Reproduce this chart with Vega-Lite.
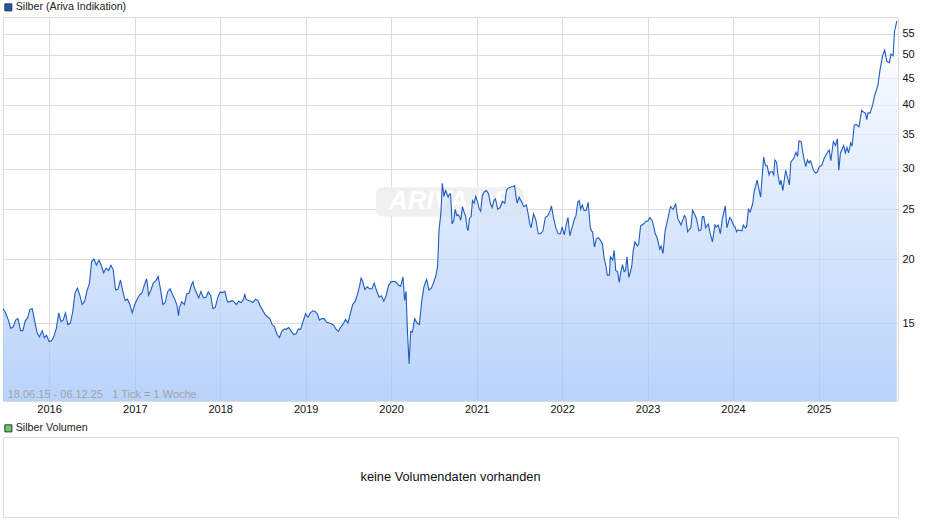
{
  "$schema": "https://vega.github.io/schema/vega-lite/v6.json",
  "background": "white",
  "padding": {"left": 0, "top": 1, "right": 0, "bottom": 0},
  "bounds": "flush",
  "spacing": 36,
  "datasets": {
    "silver": [
      {"date":"2015-06-18","price":16.0},{"date":"2015-06-28","price":15.75},{"date":"2015-07-01","price":15.6},{"date":"2015-07-11","price":15.2},{"date":"2015-07-21","price":14.65},
      {"date":"2015-08-01","price":14.75},{"date":"2015-08-11","price":15.2},{"date":"2015-08-21","price":15.3},{"date":"2015-09-01","price":14.5},{"date":"2015-09-11","price":14.5},{"date":"2015-09-21","price":15.15},
      {"date":"2015-10-01","price":15.35},{"date":"2015-10-11","price":15.95},{"date":"2015-10-21","price":16.0},{"date":"2015-11-01","price":15.1},{"date":"2015-11-11","price":14.35},{"date":"2015-11-21","price":14.1},
      {"date":"2015-12-03","price":14.5},{"date":"2015-12-11","price":14.05},{"date":"2015-12-21","price":14.2},{"date":"2016-01-01","price":13.8},{"date":"2016-01-11","price":13.85},{"date":"2016-01-21","price":14.1},
      {"date":"2016-02-01","price":14.65},{"date":"2016-02-11","price":15.7},{"date":"2016-02-21","price":15.1},{"date":"2016-03-01","price":15.2},{"date":"2016-03-11","price":15.7},{"date":"2016-03-21","price":14.9},
      {"date":"2016-04-01","price":15.0},{"date":"2016-04-11","price":15.8},{"date":"2016-04-21","price":17.2},{"date":"2016-05-01","price":17.55},{"date":"2016-05-11","price":17.0},{"date":"2016-05-21","price":16.3},
      {"date":"2016-06-01","price":16.55},{"date":"2016-06-11","price":17.35},{"date":"2016-06-21","price":17.9},{"date":"2016-07-01","price":19.8},{"date":"2016-07-11","price":20.0},{"date":"2016-07-21","price":19.45},
      {"date":"2016-08-01","price":19.9},{"date":"2016-08-11","price":19.45},{"date":"2016-08-21","price":18.8},{"date":"2016-09-01","price":19.2},{"date":"2016-09-11","price":19.0},{"date":"2016-09-21","price":19.45},
      {"date":"2016-10-01","price":19.05},{"date":"2016-10-11","price":17.4},{"date":"2016-10-21","price":17.45},{"date":"2016-11-01","price":18.2},{"date":"2016-11-11","price":17.3},{"date":"2016-11-21","price":16.6},
      {"date":"2016-12-01","price":16.7},{"date":"2016-12-11","price":16.3},{"date":"2016-12-21","price":15.7},{"date":"2017-01-01","price":16.3},{"date":"2017-01-11","price":16.7},{"date":"2017-01-21","price":17.0},
      {"date":"2017-02-01","price":17.2},{"date":"2017-02-11","price":17.8},{"date":"2017-02-21","price":18.3},{"date":"2017-03-01","price":17.0},{"date":"2017-03-11","price":17.4},{"date":"2017-03-21","price":17.95},
      {"date":"2017-04-01","price":18.15},{"date":"2017-04-11","price":18.5},{"date":"2017-04-21","price":17.45},{"date":"2017-05-01","price":16.3},{"date":"2017-05-11","price":16.45},{"date":"2017-05-21","price":17.25},
      {"date":"2017-06-01","price":17.5},{"date":"2017-06-11","price":17.05},{"date":"2017-06-21","price":16.7},{"date":"2017-07-01","price":16.2},{"date":"2017-07-07","price":15.5},{"date":"2017-07-11","price":16.1},{"date":"2017-07-21","price":16.5},
      {"date":"2017-08-01","price":16.3},{"date":"2017-08-11","price":17.1},{"date":"2017-08-21","price":17.15},{"date":"2017-09-01","price":17.85},{"date":"2017-09-07","price":18.05},{"date":"2017-09-11","price":17.65},{"date":"2017-09-21","price":17.2},
      {"date":"2017-10-01","price":16.8},{"date":"2017-10-11","price":17.3},{"date":"2017-10-21","price":16.8},{"date":"2017-11-01","price":16.85},{"date":"2017-11-11","price":17.25},{"date":"2017-11-21","price":17.0},
      {"date":"2017-12-01","price":16.0},{"date":"2017-12-11","price":16.1},{"date":"2017-12-21","price":16.8},{"date":"2018-01-01","price":17.25},{"date":"2018-01-11","price":17.2},{"date":"2018-01-21","price":17.3},
      {"date":"2018-02-01","price":16.5},{"date":"2018-02-11","price":16.5},{"date":"2018-02-21","price":16.6},{"date":"2018-03-01","price":16.5},{"date":"2018-03-11","price":16.3},{"date":"2018-03-21","price":16.55},
      {"date":"2018-04-01","price":16.45},{"date":"2018-04-11","price":16.7},{"date":"2018-04-16","price":17.1},{"date":"2018-04-21","price":16.7},{"date":"2018-05-01","price":16.6},{"date":"2018-05-11","price":16.55},{"date":"2018-05-21","price":16.45},
      {"date":"2018-06-01","price":16.7},{"date":"2018-06-11","price":16.6},{"date":"2018-06-21","price":16.2},{"date":"2018-07-01","price":15.9},{"date":"2018-07-11","price":15.6},{"date":"2018-07-21","price":15.45},
      {"date":"2018-08-01","price":15.3},{"date":"2018-08-11","price":14.9},{"date":"2018-08-21","price":14.75},{"date":"2018-09-01","price":14.25},{"date":"2018-09-11","price":14.05},{"date":"2018-09-21","price":14.45},
      {"date":"2018-10-01","price":14.6},{"date":"2018-10-11","price":14.6},{"date":"2018-10-21","price":14.7},{"date":"2018-11-01","price":14.45},{"date":"2018-11-11","price":14.25},{"date":"2018-11-21","price":14.3},
      {"date":"2018-12-01","price":14.6},{"date":"2018-12-11","price":14.6},{"date":"2018-12-21","price":15.1},{"date":"2019-01-01","price":15.65},{"date":"2019-01-11","price":15.4},{"date":"2019-01-21","price":15.7},
      {"date":"2019-02-01","price":15.85},{"date":"2019-02-11","price":15.8},{"date":"2019-02-21","price":15.6},{"date":"2019-03-01","price":15.2},{"date":"2019-03-11","price":15.3},{"date":"2019-03-21","price":15.3},
      {"date":"2019-04-01","price":15.05},{"date":"2019-04-11","price":15.0},{"date":"2019-04-21","price":14.95},{"date":"2019-05-01","price":14.85},{"date":"2019-05-11","price":14.6},{"date":"2019-05-21","price":14.45},
      {"date":"2019-06-01","price":14.75},{"date":"2019-06-11","price":14.95},{"date":"2019-06-21","price":15.25},{"date":"2019-07-01","price":15.0},{"date":"2019-07-11","price":15.65},{"date":"2019-07-21","price":16.3},
      {"date":"2019-08-01","price":16.55},{"date":"2019-08-11","price":17.1},{"date":"2019-08-21","price":17.85},{"date":"2019-08-26","price":18.35},{"date":"2019-09-01","price":18.15},{"date":"2019-09-11","price":17.45},{"date":"2019-09-21","price":17.65},
      {"date":"2019-10-01","price":17.5},{"date":"2019-10-11","price":17.5},{"date":"2019-10-21","price":17.95},{"date":"2019-11-01","price":17.3},{"date":"2019-11-11","price":16.85},{"date":"2019-11-21","price":16.95},
      {"date":"2019-12-01","price":16.55},{"date":"2019-12-11","price":16.95},{"date":"2019-12-21","price":17.75},{"date":"2020-01-01","price":18.05},{"date":"2020-01-11","price":18.1},{"date":"2020-01-21","price":18.05},
      {"date":"2020-02-01","price":17.8},{"date":"2020-02-11","price":17.7},{"date":"2020-02-21","price":18.45},{"date":"2020-02-28","price":16.6},{"date":"2020-03-05","price":17.3},{"date":"2020-03-11","price":14.45},{"date":"2020-03-18","price":12.5},{"date":"2020-03-25","price":14.45},
      {"date":"2020-04-01","price":14.4},{"date":"2020-04-11","price":15.3},{"date":"2020-04-21","price":15.0},{"date":"2020-05-01","price":14.9},{"date":"2020-05-11","price":16.55},{"date":"2020-05-21","price":17.7},
      {"date":"2020-06-01","price":18.25},{"date":"2020-06-11","price":17.4},{"date":"2020-06-21","price":17.55},{"date":"2020-07-01","price":18.0},{"date":"2020-07-11","price":18.6},{"date":"2020-07-18","price":19.4},{"date":"2020-07-24","price":22.8},
      {"date":"2020-08-01","price":24.6},{"date":"2020-08-07","price":28.1},{"date":"2020-08-14","price":26.5},{"date":"2020-08-21","price":27.2},{"date":"2020-09-01","price":26.4},{"date":"2020-09-05","price":26.7},{"date":"2020-09-11","price":26.8},{"date":"2020-09-18","price":23.4},{"date":"2020-09-25","price":23.8},
      {"date":"2020-10-01","price":25.0},{"date":"2020-10-08","price":24.3},{"date":"2020-10-14","price":24.4},{"date":"2020-10-21","price":24.1},{"date":"2020-10-25","price":23.8},{"date":"2020-11-01","price":25.3},{"date":"2020-11-09","price":24.6},{"date":"2020-11-15","price":24.2},{"date":"2020-11-21","price":23.0},{"date":"2020-11-25","price":22.7},
      {"date":"2020-12-01","price":24.0},{"date":"2020-12-08","price":24.2},{"date":"2020-12-14","price":26.0},{"date":"2020-12-21","price":25.7},{"date":"2020-12-28","price":26.5},{"date":"2021-01-05","price":25.8},{"date":"2021-01-11","price":25.1},{"date":"2021-01-18","price":24.8},{"date":"2021-01-25","price":26.6},
      {"date":"2021-02-01","price":27.0},{"date":"2021-02-11","price":27.2},{"date":"2021-02-21","price":26.8},{"date":"2021-03-01","price":25.6},{"date":"2021-03-08","price":25.2},{"date":"2021-03-15","price":26.0},{"date":"2021-03-22","price":26.2},
      {"date":"2021-04-01","price":25.0},{"date":"2021-04-11","price":25.2},{"date":"2021-04-21","price":25.9},{"date":"2021-05-01","price":25.7},{"date":"2021-05-08","price":27.2},{"date":"2021-05-15","price":27.5},{"date":"2021-05-25","price":27.6},
      {"date":"2021-06-05","price":27.7},{"date":"2021-06-12","price":27.8},{"date":"2021-06-18","price":26.4},{"date":"2021-06-23","price":25.7},{"date":"2021-07-01","price":26.4},{"date":"2021-07-11","price":25.9},{"date":"2021-07-21","price":25.3},
      {"date":"2021-08-01","price":25.5},{"date":"2021-08-08","price":24.6},{"date":"2021-08-15","price":23.5},{"date":"2021-08-21","price":23.0},{"date":"2021-09-01","price":24.5},{"date":"2021-09-11","price":23.8},{"date":"2021-09-21","price":22.4},
      {"date":"2021-10-01","price":22.4},{"date":"2021-10-11","price":22.7},{"date":"2021-10-21","price":24.1},{"date":"2021-11-01","price":24.3},{"date":"2021-11-11","price":24.85},{"date":"2021-11-16","price":25.4},{"date":"2021-11-25","price":24.1},
      {"date":"2021-12-05","price":23.0},{"date":"2021-12-15","price":22.4},{"date":"2021-12-25","price":22.4},{"date":"2022-01-01","price":23.1},{"date":"2022-01-10","price":22.3},{"date":"2022-01-20","price":23.5},{"date":"2022-01-26","price":24.1},
      {"date":"2022-02-03","price":22.2},{"date":"2022-02-11","price":22.9},{"date":"2022-02-21","price":23.8},{"date":"2022-03-01","price":24.3},{"date":"2022-03-09","price":25.8},{"date":"2022-03-15","price":26.0},{"date":"2022-03-21","price":25.0},{"date":"2022-03-28","price":25.5},
      {"date":"2022-04-05","price":24.85},{"date":"2022-04-14","price":24.9},{"date":"2022-04-22","price":25.8},{"date":"2022-05-01","price":23.1},{"date":"2022-05-06","price":22.7},{"date":"2022-05-11","price":22.6},{"date":"2022-05-19","price":21.1},{"date":"2022-05-27","price":21.9},
      {"date":"2022-06-05","price":22.0},{"date":"2022-06-15","price":21.7},{"date":"2022-06-22","price":21.4},{"date":"2022-06-30","price":20.0},{"date":"2022-07-07","price":19.4},{"date":"2022-07-13","price":18.6},{"date":"2022-07-22","price":18.6},{"date":"2022-07-26","price":20.2},
      {"date":"2022-08-05","price":19.9},{"date":"2022-08-11","price":20.8},{"date":"2022-08-18","price":19.0},{"date":"2022-08-26","price":18.9},{"date":"2022-09-02","price":18.0},{"date":"2022-09-09","price":18.9},{"date":"2022-09-16","price":19.5},{"date":"2022-09-23","price":18.9},{"date":"2022-09-29","price":19.0},
      {"date":"2022-10-05","price":20.2},{"date":"2022-10-13","price":18.4},{"date":"2022-10-25","price":19.3},{"date":"2022-11-01","price":20.8},{"date":"2022-11-08","price":21.6},{"date":"2022-11-18","price":21.2},{"date":"2022-11-24","price":21.4},
      {"date":"2022-12-02","price":23.2},{"date":"2022-12-14","price":23.4},{"date":"2022-12-25","price":23.7},{"date":"2023-01-02","price":23.7},{"date":"2023-01-11","price":24.1},{"date":"2023-01-22","price":23.7},
      {"date":"2023-02-03","price":22.4},{"date":"2023-02-11","price":22.0},{"date":"2023-02-22","price":20.9},{"date":"2023-02-28","price":21.2},{"date":"2023-03-08","price":20.5},{"date":"2023-03-17","price":22.7},{"date":"2023-03-28","price":23.9},
      {"date":"2023-04-09","price":25.3},{"date":"2023-04-20","price":25.0},{"date":"2023-05-01","price":25.6},{"date":"2023-05-10","price":24.0},{"date":"2023-05-24","price":23.3},{"date":"2023-06-07","price":24.3},{"date":"2023-06-13","price":24.1},{"date":"2023-06-21","price":22.6},
      {"date":"2023-07-05","price":23.0},{"date":"2023-07-12","price":24.9},{"date":"2023-07-22","price":24.4},{"date":"2023-07-30","price":23.9},{"date":"2023-08-08","price":22.7},{"date":"2023-08-17","price":22.8},{"date":"2023-08-23","price":24.2},{"date":"2023-08-29","price":24.2},
      {"date":"2023-09-06","price":23.0},{"date":"2023-09-18","price":23.4},{"date":"2023-09-26","price":22.4},{"date":"2023-10-05","price":21.6},{"date":"2023-10-16","price":23.3},{"date":"2023-10-22","price":23.1},{"date":"2023-10-30","price":23.3},
      {"date":"2023-11-08","price":22.4},{"date":"2023-11-16","price":23.9},{"date":"2023-11-29","price":25.4},{"date":"2023-12-06","price":23.0},{"date":"2023-12-18","price":24.1},{"date":"2023-12-26","price":23.8},
      {"date":"2024-01-04","price":23.2},{"date":"2024-01-10","price":23.1},{"date":"2024-01-16","price":22.6},{"date":"2024-01-22","price":22.8},{"date":"2024-02-08","price":22.7},{"date":"2024-02-14","price":23.3},{"date":"2024-02-22","price":23.0},{"date":"2024-02-28","price":23.1},
      {"date":"2024-03-07","price":25.0},{"date":"2024-03-14","price":24.7},{"date":"2024-03-25","price":25.6},{"date":"2024-03-31","price":27.0},{"date":"2024-04-13","price":28.5},{"date":"2024-04-28","price":26.4},{"date":"2024-05-11","price":31.6},{"date":"2024-05-19","price":30.4},{"date":"2024-05-26","price":30.4},
      {"date":"2024-06-03","price":29.2},{"date":"2024-06-08","price":29.6},{"date":"2024-06-17","price":29.6},{"date":"2024-06-23","price":29.2},{"date":"2024-06-28","price":31.2},{"date":"2024-07-05","price":30.9},{"date":"2024-07-12","price":29.0},{"date":"2024-07-19","price":27.9},{"date":"2024-07-24","price":28.5},
      {"date":"2024-08-01","price":27.2},{"date":"2024-08-13","price":29.8},{"date":"2024-08-29","price":27.9},{"date":"2024-09-04","price":30.9},{"date":"2024-09-16","price":31.4},{"date":"2024-09-26","price":32.3},{"date":"2024-10-03","price":31.7},{"date":"2024-10-09","price":34.0},{"date":"2024-10-18","price":33.9},{"date":"2024-10-28","price":31.7},
      {"date":"2024-11-07","price":30.3},{"date":"2024-11-14","price":31.2},{"date":"2024-11-21","price":30.8},{"date":"2024-11-27","price":31.1},{"date":"2024-12-10","price":29.8},{"date":"2024-12-20","price":29.4},{"date":"2024-12-27","price":29.6},
      {"date":"2025-01-04","price":30.3},{"date":"2025-01-15","price":30.5},{"date":"2025-01-24","price":31.4},{"date":"2025-02-06","price":32.2},{"date":"2025-02-15","price":32.6},{"date":"2025-02-22","price":31.1},{"date":"2025-03-05","price":33.9},{"date":"2025-03-14","price":33.3},{"date":"2025-03-22","price":34.3},{"date":"2025-03-28","price":29.8},
      {"date":"2025-04-04","price":32.2},{"date":"2025-04-18","price":33.3},{"date":"2025-04-25","price":32.2},{"date":"2025-05-02","price":33.0},{"date":"2025-05-09","price":32.2},{"date":"2025-05-18","price":33.7},{"date":"2025-05-24","price":33.2},
      {"date":"2025-06-02","price":36.5},{"date":"2025-06-10","price":36.6},{"date":"2025-06-22","price":36.2},{"date":"2025-07-04","price":39.0},{"date":"2025-07-14","price":38.6},{"date":"2025-07-20","price":38.5},{"date":"2025-07-25","price":37.4},{"date":"2025-07-31","price":38.6},
      {"date":"2025-08-09","price":38.5},{"date":"2025-08-20","price":40.0},{"date":"2025-08-28","price":41.6},{"date":"2025-09-11","price":43.6},{"date":"2025-09-20","price":46.7},{"date":"2025-10-01","price":49.8},{"date":"2025-10-10","price":51.1},{"date":"2025-10-19","price":48.6},{"date":"2025-10-30","price":48.3},
      {"date":"2025-11-06","price":50.2},{"date":"2025-11-15","price":49.8},{"date":"2025-11-21","price":55.5},{"date":"2025-12-01","price":58.2}
    ]
  },
  "vconcat": [
    {
      "width": 895,
      "height": 384,
      "encoding": {
        "x": {
          "field": "date",
          "type": "temporal",
          "title": null,
          "scale": {"domain": ["2015-06-18", "2025-12-06"]},
          "axis": {"tickCount": "year", "format": "%Y", "ticks": false, "domain": false, "labelPadding": 2, "labelFlush": false, "labelOverlap": false}
        },
        "y": {
          "field": "price",
          "type": "quantitative",
          "title": null,
          "scale": {"type": "log", "domain": [10.57, 59.3], "nice": false},
          "axis": {"orient": "right", "values": [15, 20, 25, 30, 35, 40, 45, 50, 55], "ticks": false, "domain": false, "labelPadding": 4}
        }
      },
      "layer": [
        {
          "data": {"values": [{"start": "2019-10-29", "end": "2021-07-22", "low": 24.2, "high": 27.6}]},
          "mark": {"type": "rect", "color": "#f0f0f0", "cornerRadius": 7},
          "encoding": {
            "x": {"field": "start", "type": "temporal"},
            "x2": {"field": "end"},
            "y": {"field": "low", "type": "quantitative"},
            "y2": {"field": "high"}
          }
        },
        {
          "data": {"values": [{"date": "2020-09-09", "price": 25.9, "label": "ARIVA.DE"}]},
          "mark": {"type": "text", "color": "white", "font": "Liberation Sans", "fontSize": 26, "fontWeight": "bold", "fontStyle": "italic"},
          "encoding": {"text": {"field": "label"}}
        },
        {
          "data": {"name": "silver"},
          "mark": {
            "type": "area",
            "color": {
              "x1": 1, "y1": 0, "x2": 1, "y2": 1,
              "gradient": "linear",
              "stops": [{"offset": 0, "color": "#ffffff"}, {"offset": 1, "color": "#9cc0f8"}]
            },
            "opacity": 0.7
          },
          "encoding": {"y2": {"datum": 10.57}}
        },
        {
          "data": {"name": "silver"},
          "mark": {"type": "line", "color": "#1f5cc0", "strokeWidth": 1.1}
        },
        {
          "data": {"values": [{"date": "2015-07-08", "price": 10.85, "label": "18.06.15 - 06.12.25\u00a0\u00a0\u00a01 Tick = 1 Woche"}]},
          "mark": {"type": "text", "align": "left", "color": "#a3a3a3", "font": "Liberation Sans", "fontSize": 11},
          "encoding": {"text": {"field": "label"}}
        },
        {
          "data": {"values": [{"series": "Silber (Ariva Indikation)"}]},
          "mark": {"type": "square", "opacity": 0, "size": 0},
          "encoding": {
            "x": {"value": 0},
            "y": {"value": 0},
            "fill": {
              "field": "series",
              "type": "nominal",
              "scale": {"range": ["#1a56b8"]},
              "legend": {"orient": "none", "legendX": 0, "legendY": -15, "title": null, "symbolOpacity": 1, "symbolType": "square", "symbolSize": 49, "symbolStrokeColor": "#333333", "symbolStrokeWidth": 1, "labelFont": "Liberation Sans", "labelFontSize": 10.7, "labelColor": "#222222", "labelOffset": 2, "padding": 0}
            }
          }
        }
      ]
    },
    {
      "width": 895,
      "height": 80,
      "layer": [
        {
          "data": {"values": [{"note": "keine Volumendaten vorhanden"}]},
          "mark": {"type": "text", "font": "Liberation Sans", "fontSize": 12.8, "color": "#111111"},
          "encoding": {"text": {"field": "note"}}
        },
        {
          "data": {"values": [{"series": "Silber Volumen"}]},
          "mark": {"type": "square", "opacity": 0, "size": 0},
          "encoding": {
            "x": {"value": 0},
            "y": {"value": 0},
            "fill": {
              "field": "series",
              "type": "nominal",
              "scale": {"range": ["#66cc66"]},
              "legend": {"orient": "none", "legendX": 0, "legendY": -14, "title": null, "symbolOpacity": 1, "symbolType": "square", "symbolSize": 49, "symbolStrokeColor": "#333333", "symbolStrokeWidth": 1, "labelFont": "Liberation Sans", "labelFontSize": 10.7, "labelColor": "#222222", "labelOffset": 2, "padding": 0}
            }
          }
        }
      ]
    }
  ],
  "resolve": {"scale": {"fill": "independent"}, "legend": {"fill": "independent"}},
  "config": {
    "view": {"stroke": "#dcdcdc"},
    "axis": {"labelFont": "Liberation Sans", "labelFontSize": 11, "labelColor": "#111111", "gridColor": "#dcdcdc", "gridOpacity": 1, "grid": true}
  }
}
